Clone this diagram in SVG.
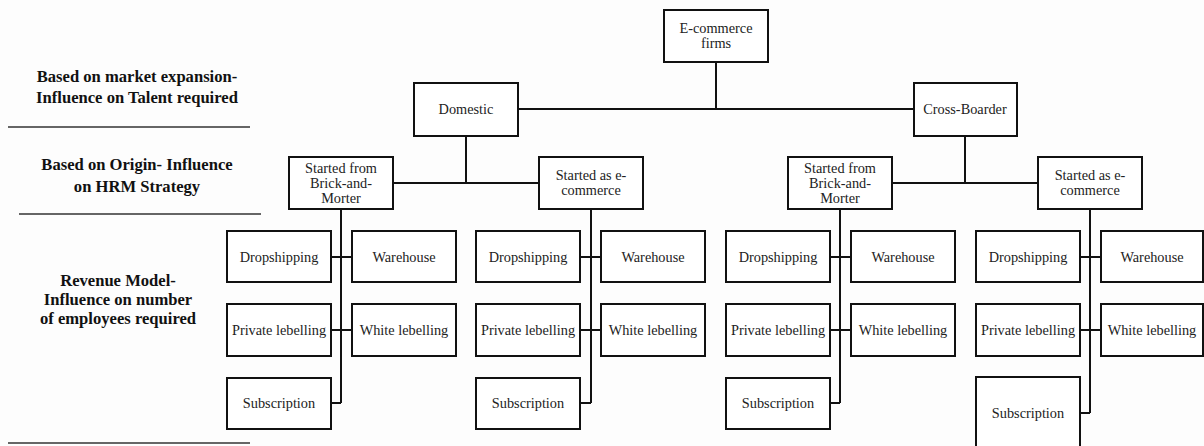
<svg xmlns="http://www.w3.org/2000/svg" width="1204" height="446" viewBox="0 0 1204 446">
  <style>
    .box { fill: #ffffff; stroke: #111111; stroke-width: 2; }
    .lbl { font-family: 'Liberation Serif', 'DejaVu Serif', serif; font-size: 14.3px; fill: #222222; text-anchor: middle; }
    .side { font-family: 'Liberation Serif', 'DejaVu Serif', serif; font-size: 16.6px; font-weight: bold; fill: #111111; text-anchor: middle; }
    .conn { fill: none; stroke: #111111; stroke-width: 2; }
    .sep { stroke: #333333; stroke-width: 1.6; }
  </style>
  <rect width="1204" height="446" fill="#fdfdfd"/>

  <!-- level captions on the left -->
  <g id="captions">
    <text class="side" x="137" y="82">Based on market expansion-</text>
    <text class="side" x="137" y="103">Influence on Talent required</text>
    <line class="sep" x1="8" y1="127" x2="250" y2="127"/>
    <text class="side" x="137" y="170">Based on Origin- Influence</text>
    <text class="side" x="137" y="192">on HRM Strategy</text>
    <line class="sep" x1="19" y1="214" x2="261" y2="214"/>
    <text class="side" x="118" y="286">Revenue Model-</text>
    <text class="side" x="118" y="305">Influence on number</text>
    <text class="side" x="118" y="324">of employees required</text>
    <line class="sep" x1="8" y1="443" x2="250" y2="443"/>
  </g>

  <!-- connectors -->
  <g id="connectors">
    <path class="conn" d="M716 62 V109 M518 109 H914"/>
    <path class="conn" d="M466 136 V183 M393 183 H539"/>
    <path class="conn" d="M965 136 V183 M892 183 H1038"/>
    <!-- revenue model stems -->
    <path class="conn" d="M341 209 V403 M331 257 H352 M331 330 H352 M331 403 H341"/>
    <path class="conn" d="M591 209 V403 M580 257 H601 M580 330 H601 M580 403 H591"/>
    <path class="conn" d="M840 209 V403 M830 257 H851 M830 330 H851 M830 403 H840"/>
    <path class="conn" d="M1090 209 V413 M1080 257 H1101 M1080 330 H1101 M1080 413 H1090"/>
  </g>

  <g id="ecommerce-firms">
    <rect class="box" x="664" y="10" width="104" height="52"/>
    <text class="lbl" x="716" y="33">E-commerce</text>
    <text class="lbl" x="716" y="48">firms</text>
  </g>
  <g id="domestic">
    <rect class="box" x="414" y="83" width="104" height="53"/>
    <text class="lbl" x="466" y="114">Domestic</text>
  </g>
  <g id="cross-boarder">
    <rect class="box" x="914" y="83" width="103" height="53"/>
    <text class="lbl" x="965" y="114">Cross-Boarder</text>
  </g>

  <g id="dom-brick">
    <rect class="box" x="289" y="157" width="104" height="52"/>
    <text class="lbl" x="341" y="173">Started from</text>
    <text class="lbl" x="341" y="188">Brick-and-</text>
    <text class="lbl" x="341" y="203">Morter</text>
  </g>
  <g id="dom-ecom">
    <rect class="box" x="539" y="157" width="104" height="52"/>
    <text class="lbl" x="591" y="180">Started as e-</text>
    <text class="lbl" x="591" y="195">commerce</text>
  </g>
  <g id="cb-brick">
    <rect class="box" x="788" y="157" width="104" height="52"/>
    <text class="lbl" x="840" y="173">Started from</text>
    <text class="lbl" x="840" y="188">Brick-and-</text>
    <text class="lbl" x="840" y="203">Morter</text>
  </g>
  <g id="cb-ecom">
    <rect class="box" x="1038" y="157" width="104" height="52"/>
    <text class="lbl" x="1090" y="180">Started as e-</text>
    <text class="lbl" x="1090" y="195">commerce</text>
  </g>

  <!-- revenue models: domestic / brick-and-morter -->
  <g id="g1-dropshipping"><rect class="box" x="227" y="231" width="104" height="51"/><text class="lbl" x="279" y="262">Dropshipping</text></g>
  <g id="g1-warehouse"><rect class="box" x="352" y="231" width="104" height="51"/><text class="lbl" x="404" y="262">Warehouse</text></g>
  <g id="g1-private"><rect class="box" x="227" y="304" width="104" height="52"/><text class="lbl" x="279" y="335">Private lebelling</text></g>
  <g id="g1-white"><rect class="box" x="352" y="304" width="104" height="52"/><text class="lbl" x="404" y="335">White lebelling</text></g>
  <g id="g1-subscription"><rect class="box" x="227" y="378" width="104" height="51"/><text class="lbl" x="279" y="408">Subscription</text></g>

  <!-- revenue models: domestic / e-commerce -->
  <g id="g2-dropshipping"><rect class="box" x="476" y="231" width="104" height="51"/><text class="lbl" x="528" y="262">Dropshipping</text></g>
  <g id="g2-warehouse"><rect class="box" x="601" y="231" width="104" height="51"/><text class="lbl" x="653" y="262">Warehouse</text></g>
  <g id="g2-private"><rect class="box" x="476" y="304" width="104" height="52"/><text class="lbl" x="528" y="335">Private lebelling</text></g>
  <g id="g2-white"><rect class="box" x="601" y="304" width="104" height="52"/><text class="lbl" x="653" y="335">White lebelling</text></g>
  <g id="g2-subscription"><rect class="box" x="476" y="378" width="104" height="51"/><text class="lbl" x="528" y="408">Subscription</text></g>

  <!-- revenue models: cross-boarder / brick-and-morter -->
  <g id="g3-dropshipping"><rect class="box" x="726" y="231" width="104" height="51"/><text class="lbl" x="778" y="262">Dropshipping</text></g>
  <g id="g3-warehouse"><rect class="box" x="851" y="231" width="104" height="51"/><text class="lbl" x="903" y="262">Warehouse</text></g>
  <g id="g3-private"><rect class="box" x="726" y="304" width="104" height="52"/><text class="lbl" x="778" y="335">Private lebelling</text></g>
  <g id="g3-white"><rect class="box" x="851" y="304" width="104" height="52"/><text class="lbl" x="903" y="335">White lebelling</text></g>
  <g id="g3-subscription"><rect class="box" x="726" y="378" width="104" height="51"/><text class="lbl" x="778" y="408">Subscription</text></g>

  <!-- revenue models: cross-boarder / e-commerce -->
  <g id="g4-dropshipping"><rect class="box" x="976" y="231" width="104" height="51"/><text class="lbl" x="1028" y="262">Dropshipping</text></g>
  <g id="g4-warehouse"><rect class="box" x="1101" y="231" width="102" height="51"/><text class="lbl" x="1152" y="262">Warehouse</text></g>
  <g id="g4-private"><rect class="box" x="976" y="304" width="104" height="52"/><text class="lbl" x="1028" y="335">Private lebelling</text></g>
  <g id="g4-white"><rect class="box" x="1101" y="304" width="102" height="52"/><text class="lbl" x="1152" y="335">White lebelling</text></g>
  <g id="g4-subscription"><rect class="box" x="976" y="377" width="104" height="80"/><text class="lbl" x="1028" y="418">Subscription</text></g>
</svg>
